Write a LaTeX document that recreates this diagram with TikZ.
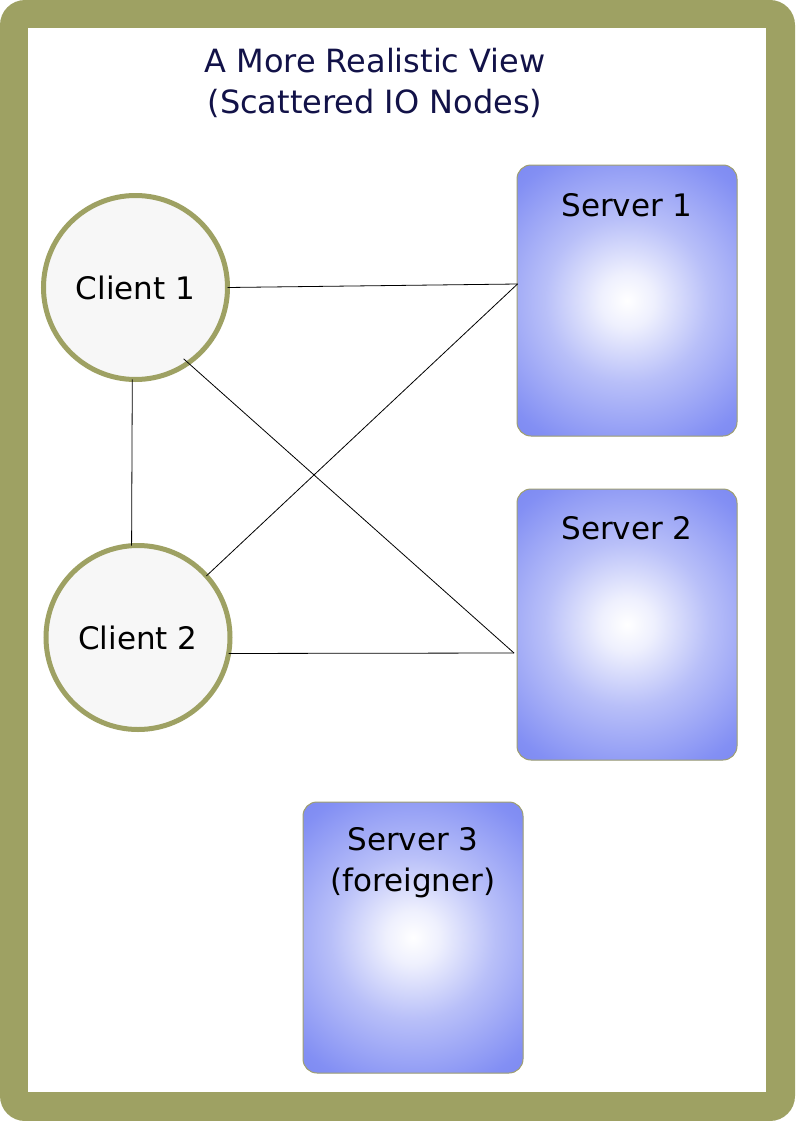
\documentclass[tikz,border=0pt]{standalone}
\usepackage{fontspec}
\setmainfont{DejaVu Sans}
\usetikzlibrary{calc}
\definecolor{frameolive}{RGB}{158,161,99}
\definecolor{clientfill}{RGB}{247,247,247}
\definecolor{srvblue}{RGB}{114,128,242}
\definecolor{srvborder}{RGB}{160,160,112}
\definecolor{titlenavy}{RGB}{18,18,72}
\pgfdeclareradialshading{srvshade}{\pgfpoint{0bp}{0bp}}{%
  color(0bp)=(white);
  color(4bp)=(white!88!srvblue);
  color(12bp)=(white!50!srvblue);
  color(23bp)=(white!12!srvblue);
  color(31bp)=(srvblue);
  color(50bp)=(srvblue)}
\begin{document}
\begin{tikzpicture}[x=1pt,y=-1pt,
  client/.style={circle, draw=frameolive, line width=5pt, fill=clientfill,
    minimum size=184pt, inner sep=0pt, outer sep=0pt,
    font=\fontsize{31}{38}\selectfont},
  server/.style={rectangle, rounded corners=14pt, draw=srvborder, line width=1pt,
    fill=srvblue, minimum width=220pt, minimum height=271pt, inner sep=0pt, outer sep=0pt,
    path picture={\shade[shading=srvshade]
      (path picture bounding box.center) circle (170pt);}},
  lbl/.style={font=\fontsize{31}{41}\selectfont, align=center, inner sep=0pt},
  link/.style={draw=black, line width=0.8pt}]
  \fill[frameolive, rounded corners=25pt] (0,0) rectangle (795,1121);
  \fill[white] (28,28) rectangle (766,1092);
  \useasboundingbox (0,0) rectangle (795,1121);

  \node[lbl, text=titlenavy, font=\fontsize{32}{41}\selectfont] (title) at (375,83) {A More Realistic View\\(Scattered IO Nodes)};

  \node[server] (s1) at (627,300.5) {};
  \node[server] (s2) at (627,624.5) {};
  \node[server] (s3) at (413,937.5) {};
  \node[lbl] (s1t) at (627,205) {Server 1};
  \node[lbl] (s2t) at (627,528) {Server 2};
  \node[lbl] (s3t) at (413,862.5) {Server 3\\(foreigner)};

  \node[client] (c1) at (135.5,287.5) {Client 1};
  \node[client] (c2) at (138,637.5) {Client 2};

  \coordinate (s1p) at (517.5,284);
  \coordinate (s2p) at (514,653);

  \draw[link] (c1.0) -- (s1p);
  \draw[link] ($(c1)!0.935!(c1.-56)$) -- (s2p);
  \draw[link] (c1.-92) -- (c2.94);
  \draw[link] (c2.42) -- (s1p);
  \draw[link] (c2.-10) -- (s2p);
\end{tikzpicture}
\end{document}
